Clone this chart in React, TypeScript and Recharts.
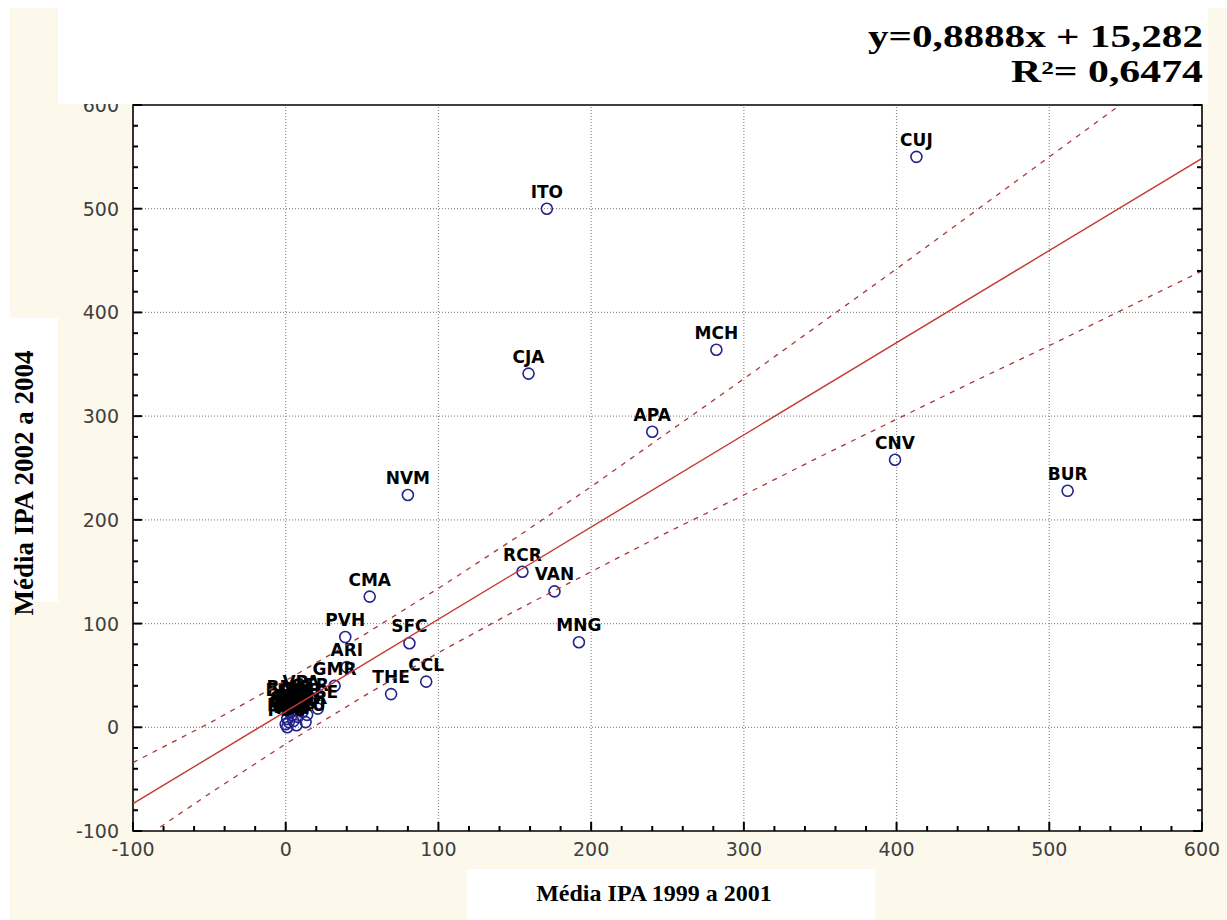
import React from 'react';
import { ScatterChart, Scatter, XAxis, YAxis, ReferenceLine, ReferenceArea } from 'recharts';

// ---- data ----
const codes = [
  'CUJ', 'ITO', 'MCH', 'CJA', 'APA', 'CNV', 'BUR', 'NVM', 'RCR', 'VAN',
  'MNG', 'CMA', 'PVH', 'SFC', 'ARI', 'GMR', 'THE', 'CCL', 'VPA',
  'EDO', 'RMO', 'CER', 'COL', 'JPR', 'JAR', 'SER', 'SMG', 'NBR', 'MSE',
  'CAC', 'OPO', 'PMD', 'ALV', 'URU', 'VIL', 'AAP', 'PBU',
];
const ipa1999to2001 = [
  413, 171, 282, 159, 240, 399, 512, 80, 155, 176,
  192, 55, 39, 81, 40, 32, 69, 92, 10,
  0, 2, 16, 9, 3, 6, 11, 4, 14, 21,
  1, 8, 2, 5, 13, 0, 7, 1,
];
const ipa2002to2004 = [
  550, 500, 364, 341, 285, 258, 228, 224, 150, 131,
  82, 126, 87, 81, 58, 40, 32, 44, 27,
  20, 22, 24, 21, 14, 17, 15, 12, 12, 18,
  8, 10, 5, 6, 5, 3, 2, 0,
];

// regression line y = 0,8888x + 15,282 (end points)
const fitX = [-100, 600];
const fitY = [-73.6, 548.6];

// dashed confidence band, read at every 50 units
const bandX = [-100, -50, 0, 50, 100, 150, 200, 250, 300, 350, 400, 450, 500, 550, 600];
const bandUpper = [-34, 4, 45, 88, 134, 182, 232, 284, 336, 389, 442, 496, 550, 604, 658];
const bandLower = [-114, -64, -16, 29, 72, 112, 150, 188, 224, 261, 297, 333, 368, 404, 440];

const axisTicks = [
  -100, -80, -60, -40, -20, 0, 20, 40, 60, 80, 100, 120, 140, 160, 180, 200, 220, 240,
  260, 280, 300, 320, 340, 360, 380, 400, 420, 440, 460, 480, 500, 520, 540, 560, 580, 600,
];
const labelTicks = [-100, 0, 100, 200, 300, 400, 500, 600];
const gridValues = [0, 100, 200, 300, 400, 500];

const equationLines = ['y=0,8888x + 15,282', 'R²= 0,6474'];
const xTitle = 'Média IPA 1999 a 2001';
const yTitle = 'Média IPA 2002 a 2004';

// ---- built tables ----
const points = codes.map((name, i) => ({ name, x: ipa1999to2001[i], y: ipa2002to2004[i] }));
const fitData = fitX.map((x, i) => ({ x, y: fitY[i] }));
const upperData = bandX.map((x, i) => ({ x, y: bandUpper[i] }));
const lowerData = bandX.map((x, i) => ({ x, y: bandLower[i] }));

const CREAM = '#fcf8ec';
const NAVY = '#24248c';
const RED = '#c43a32';
const DASHRED = '#a8363a';
const TICKFONT = { fontFamily: '"DejaVu Sans", sans-serif', fontSize: 19, fill: '#404040' };
const TICKSTROKE = { stroke: '#000', strokeWidth: 2 };

const isLabel = (v: number) => labelTicks.includes(v);

const BottomTick = (p: any) => {
  const v = p.payload.value;
  const major = isLabel(v);
  return (
    <g>
      <path d={`M${p.x},${p.y}V${p.y - (major ? 9 : 5)}`} {...TICKSTROKE} />
      {major && (
        <text x={p.x} y={p.y + 25} textAnchor="middle" {...TICKFONT}>{v}</text>
      )}
    </g>
  );
};
const TopTick = (p: any) => {
  const major = isLabel(p.payload.value);
  return <path d={`M${p.x},${p.y}V${p.y + (major ? 9 : 5)}`} {...TICKSTROKE} />;
};
const LeftTick = (p: any) => {
  const v = p.payload.value;
  const major = isLabel(v);
  return (
    <g>
      <path d={`M${p.x},${p.y}H${p.x + (major ? 9 : 5)}`} {...TICKSTROKE} />
      {major && (
        <text x={p.x - 14} y={p.y + 7} textAnchor="end" {...TICKFONT}>{v}</text>
      )}
    </g>
  );
};
const RightTick = (p: any) => {
  const major = isLabel(p.payload.value);
  return <path d={`M${p.x},${p.y}H${p.x - (major ? 9 : 5)}`} {...TICKSTROKE} />;
};

const NoShape = () => <g />;
const CircleShape = (p: any) => (
  <circle cx={p.cx} cy={p.cy} r={5.5} fill="none" stroke={NAVY} strokeWidth={1.6} />
);
const LabelShape = (p: any) => (
  <text
    x={p.cx}
    y={p.cy - 11}
    textAnchor="middle"
    fontFamily='"DejaVu Sans", sans-serif'
    fontWeight="bold"
    fontSize={17}
    fill="#000"
  >
    {p.payload.name}
  </text>
);

const serif = '"Liberation Serif", "Times New Roman", serif';

export default function App() {
  return (
    <div style={{ position: 'absolute', left: 0, top: 0, width: 1227, height: 920, background: '#fff', overflow: 'hidden' }}>
      <div style={{ position: 'absolute', left: 10, top: 8, width: 1217, height: 912, background: CREAM }} />
      <div style={{ position: 'absolute', left: 133, top: 105, width: 1069, height: 726, background: '#fff' }} />
      <div style={{ position: 'absolute', left: 0, top: 0 }}>
        <ScatterChart width={1227} height={920} margin={{ top: 104, right: 24, bottom: 88, left: 132 }}>
          <XAxis
            type="number"
            dataKey="x"
            domain={[-100, 600]}
            allowDataOverflow
            ticks={axisTicks}
            interval={0}
            tick={BottomTick}
            tickLine={false}
            axisLine={false}
            tickSize={0}
            tickMargin={0}
            height={1}
          />
          <XAxis
            xAxisId="top"
            orientation="top"
            type="number"
            domain={[-100, 600]}
            allowDataOverflow
            ticks={axisTicks}
            interval={0}
            tick={TopTick}
            tickLine={false}
            axisLine={false}
            tickSize={0}
            tickMargin={0}
            height={1}
          />
          <YAxis
            type="number"
            dataKey="y"
            domain={[-100, 600]}
            allowDataOverflow
            ticks={axisTicks}
            interval={0}
            tick={LeftTick}
            tickLine={false}
            axisLine={false}
            tickSize={0}
            tickMargin={0}
            width={1}
          />
          <YAxis
            yAxisId="right"
            orientation="right"
            type="number"
            domain={[-100, 600]}
            allowDataOverflow
            ticks={axisTicks}
            interval={0}
            tick={RightTick}
            tickLine={false}
            axisLine={false}
            tickSize={0}
            tickMargin={0}
            width={1}
          />
          {gridValues.map((v) => (
            <ReferenceLine key={'gx' + v} x={v} stroke="#8c8c8c" strokeWidth={1.2} strokeDasharray="1 2" />
          ))}
          {gridValues.map((v) => (
            <ReferenceLine key={'gy' + v} y={v} stroke="#8c8c8c" strokeWidth={1.2} strokeDasharray="1 2" />
          ))}
          <Scatter data={points} shape={CircleShape} isAnimationActive={false} />
          <Scatter data={points} shape={LabelShape} isAnimationActive={false} />
          <Scatter
            data={fitData}
            shape={NoShape}
            line={{ stroke: RED, strokeWidth: 1.4 }}
            lineType="joint"
            isAnimationActive={false}
          />
          <Scatter
            data={upperData}
            shape={NoShape}
            line={{ stroke: DASHRED, strokeWidth: 1.3, strokeDasharray: '5 6' }}
            lineType="joint"
            isAnimationActive={false}
          />
          <Scatter
            data={lowerData}
            shape={NoShape}
            line={{ stroke: DASHRED, strokeWidth: 1.3, strokeDasharray: '5 6' }}
            lineType="joint"
            isAnimationActive={false}
          />
          <ReferenceArea x1={-100} x2={600} y1={-100} y2={600} fill="none" stroke="#000" strokeWidth={1.6} />
        </ScatterChart>
      </div>
      <svg width={1227} height={920} style={{ position: 'absolute', left: 0, top: 0, pointerEvents: 'none' }}>
        <rect x={58} y={8} width={1150} height={96} fill="#fff" />
        <text x={1203} y={47} textAnchor="end" fontFamily={serif} fontWeight="bold" fontSize={31} fill="#000"
          textLength={335} lengthAdjust="spacingAndGlyphs">
          {equationLines[0]}
        </text>
        <text x={1203} y={82} textAnchor="end" fontFamily={serif} fontWeight="bold" fontSize={31} fill="#000"
          textLength={192} lengthAdjust="spacingAndGlyphs">
          {equationLines[1]}
        </text>
        <rect x={10} y={318} width={48} height={284} fill="#fff" />
        <text
          transform="translate(33,483) rotate(-90)"
          textAnchor="middle"
          fontFamily={serif}
          fontWeight="bold"
          fontSize={27}
          fill="#000"
        >
          {yTitle}
        </text>
        <rect x={467} y={869} width={408} height={51} fill="#fff" />
        <text x={654} y={901} textAnchor="middle" fontFamily={serif} fontWeight="bold" fontSize={24} fill="#000">
          {xTitle}
        </text>
      </svg>
    </div>
  );
}
